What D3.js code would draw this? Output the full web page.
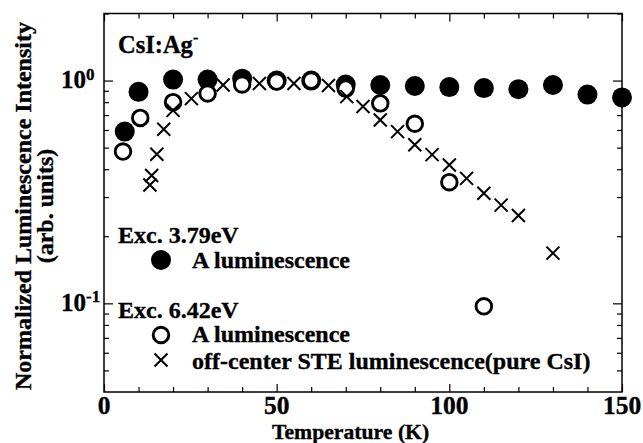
<!DOCTYPE html>
<html>
<head>
<meta charset="utf-8">
<script src="https://cdn.jsdelivr.net/npm/d3@7"></script>
<style>
  html, body { margin: 0; padding: 0; background: #fff; }
  svg text { font-family: "Liberation Serif", "Times New Roman", serif; font-weight: bold; fill: #000; stroke: #000; stroke-width: 0.35px; }
</style>
</head>
<body>
<svg id="chart" width="643" height="443"></svg>
<script>
// Exc. 3.79 eV – A luminescence (filled circles)
const tempA379 = [6, 10, 20, 30, 40, 50, 60, 70, 80, 90, 100, 110, 120, 130, 140, 150];
const intA379  = [0.59, 0.89, 1.01, 1.01, 1.02, 1.0, 1.0, 0.96, 0.955, 0.945, 0.935, 0.925, 0.915, 0.955, 0.865, 0.84];

// Exc. 6.42 eV – A luminescence (open circles)
const tempA642 = [5.5, 10.5, 20, 30, 40, 50, 60, 70, 80, 90, 100, 110];
const intA642  = [0.48, 0.68, 0.80, 0.875, 0.96, 0.99, 1.0, 0.92, 0.79, 0.64, 0.35, 0.097];

// Exc. 6.42 eV – off-center STE luminescence, pure CsI (crosses)
const tempSTE = [13.3, 13.8, 15.3, 17.3, 20, 25.3, 34.5, 45, 55, 65, 70.3, 75, 80, 85, 90, 95, 100, 105, 110, 115, 120, 130];
const intSTE  = [0.34, 0.375, 0.467, 0.605, 0.735, 0.83, 0.955, 0.97, 0.97, 0.95, 0.847, 0.765, 0.665, 0.59, 0.515, 0.465, 0.418, 0.364, 0.312, 0.276, 0.248, 0.168];

// Axis ticks
const xMajorTicks = [0, 50, 100, 150];
const xMinorTicks = [10, 20, 30, 40, 60, 70, 80, 90, 110, 120, 130, 140];
const yMajorTicks = [0.1, 1];
const yMinorTicks = [0.05, 0.06, 0.07, 0.08, 0.09, 0.2, 0.3, 0.4, 0.5, 0.6, 0.7, 0.8, 0.9, 2];
const yTickLabels = [{v: 1, base: "10", exp: "0"}, {v: 0.1, base: "10", exp: "-1"}];

const svg = d3.select("#chart");
const plotL = 104, plotR = 622, plotT = 13.5, plotB = 392;

const x = d3.scaleLinear().domain([0, 150]).range([plotL, plotR]);
const y = d3.scaleLog().domain([0.04, 2]).range([plotB, plotT]);

// Inward ticks on all four sides
function ticks(axisFn, scale, values, size, transform) {
  svg.append("g")
    .attr("transform", transform)
    .call(axisFn(scale).tickValues(values).tickSize(size).tickFormat(""))
    .call(g => g.select(".domain").remove())
    .call(g => g.selectAll("line").attr("stroke", "#000").attr("stroke-width", 1.2));
}
ticks(d3.axisBottom, x, xMajorTicks, -8, `translate(0,${plotB})`);
ticks(d3.axisBottom, x, xMinorTicks, -5, `translate(0,${plotB})`);
ticks(d3.axisTop, x, xMajorTicks, -8, `translate(0,${plotT})`);
ticks(d3.axisTop, x, xMinorTicks, -5, `translate(0,${plotT})`);
ticks(d3.axisLeft, y, yMajorTicks, -9, `translate(${plotL},0)`);
ticks(d3.axisLeft, y, yMinorTicks, -5, `translate(${plotL},0)`);
ticks(d3.axisRight, y, yMajorTicks, -9, `translate(${plotR},0)`);
ticks(d3.axisRight, y, yMinorTicks, -5, `translate(${plotR},0)`);

// Frame
svg.append("rect")
  .attr("x", plotL).attr("y", plotT)
  .attr("width", plotR - plotL).attr("height", plotB - plotT)
  .attr("fill", "none").attr("stroke", "#000").attr("stroke-width", 1.5);

// X tick labels
svg.append("g").selectAll("text").data(xMajorTicks).join("text")
  .attr("x", d => x(d)).attr("y", 413.5)
  .attr("text-anchor", "middle")
  .style("font-size", "25.5px")
  .text(d => d);

// Y tick labels (powers of ten)
const yl = svg.append("g").selectAll("text").data(yTickLabels).join("text")
  .attr("x", 61).attr("y", d => y(d.v) + 7.5)
  .style("font-size", "25px");
yl.append("tspan").text(d => d.base);
yl.append("tspan").attr("dy", -8.5).style("font-size", "17px").text(d => d.exp);

// Axis titles
svg.append("text")
  .attr("x", 272).attr("y", 439)
  .style("font-size", "21.7px")
  .text("Temperature (K)");

svg.append("text")
  .attr("transform", "translate(31,206) rotate(-90)")
  .attr("text-anchor", "middle")
  .style("font-size", "24px")
  .text("Normalized Luminescence Intensity");
svg.append("text")
  .attr("transform", "translate(53,206) rotate(-90)")
  .attr("text-anchor", "middle")
  .style("font-size", "24px")
  .text("(arb. units)");

// Sample label
const sample = svg.append("text").attr("x", 118).attr("y", 53).style("font-size", "24.5px");
sample.append("tspan").text("CsI:Ag");
sample.append("tspan").attr("dy", -10).style("font-size", "16px").text("-");

// Marker drawing helpers
const crossPath = (cx, cy, h) => `M${cx - h},${cy - h}L${cx + h},${cy + h}M${cx - h},${cy + h}L${cx + h},${cy - h}`;

const filledData = tempA379.map((t, i) => ({t, v: intA379[i]}));
const openData = tempA642.map((t, i) => ({t, v: intA642[i]}));
const steData = tempSTE.map((t, i) => ({t, v: intSTE[i]}));

svg.append("g").selectAll("circle").data(filledData).join("circle")
  .attr("cx", d => x(d.t)).attr("cy", d => y(d.v)).attr("r", 10)
  .attr("fill", "#000");

svg.append("g").selectAll("circle").data(openData).join("circle")
  .attr("cx", d => x(d.t)).attr("cy", d => y(d.v)).attr("r", 7.8)
  .attr("fill", "#fff").attr("stroke", "#000").attr("stroke-width", 2.9);

svg.append("g").selectAll("path").data(steData).join("path")
  .attr("d", d => crossPath(x(d.t), y(d.v), 6.5))
  .attr("fill", "none").attr("stroke", "#000").attr("stroke-width", 2);

// Legend
const lg = svg.append("g");
const legendFont = "24px";
lg.append("text").attr("x", 118).attr("y", 243).style("font-size", legendFont).text("Exc. 3.79eV");
lg.append("circle").attr("cx", 161).attr("cy", 260).attr("r", 10).attr("fill", "#000");
lg.append("text").attr("x", 192).attr("y", 268).style("font-size", legendFont).text("A luminescence");
lg.append("text").attr("x", 118).attr("y", 317.5).style("font-size", legendFont).text("Exc. 6.42eV");
lg.append("circle").attr("cx", 161).attr("cy", 335).attr("r", 7.8)
  .attr("fill", "#fff").attr("stroke", "#000").attr("stroke-width", 2.9);
lg.append("text").attr("x", 192).attr("y", 341.5).style("font-size", legendFont).text("A luminescence");
lg.append("path").attr("d", crossPath(161, 360, 6.5))
  .attr("fill", "none").attr("stroke", "#000").attr("stroke-width", 2);
lg.append("text").attr("x", 192).attr("y", 368.5).style("font-size", legendFont).text("off-center STE luminescence(pure CsI)");
</script>
</body>
</html>
